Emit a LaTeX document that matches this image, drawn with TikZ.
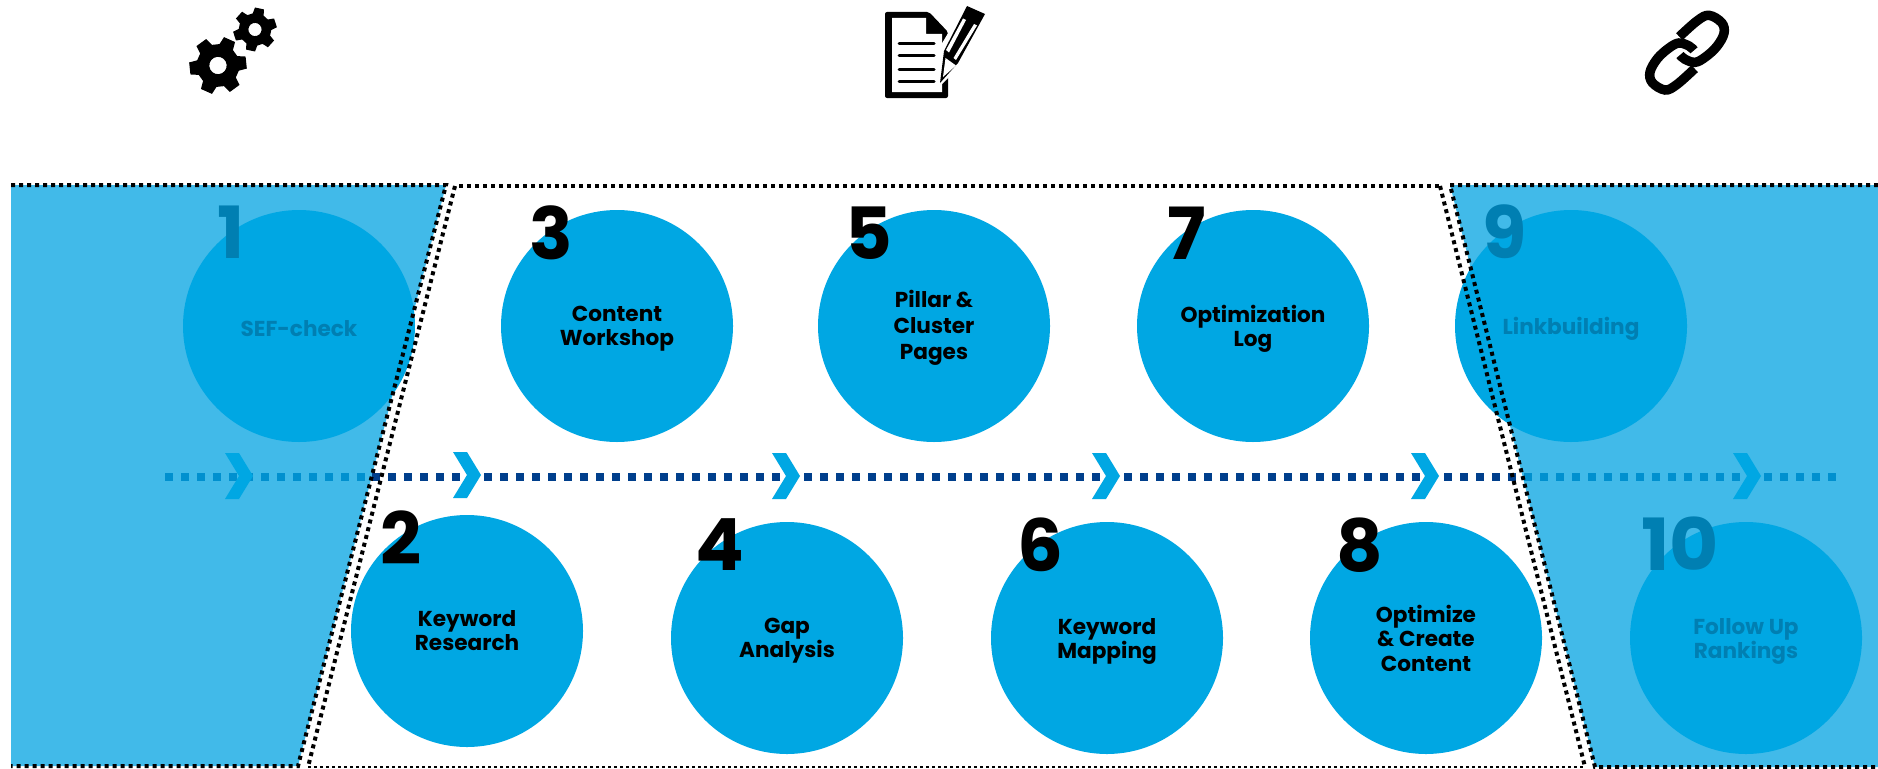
\documentclass[tikz,border=0pt]{standalone}
\usepackage{fontspec}
\setmainfont{Poppins}[BoldFont={Poppins Bold}]
\definecolor{circ}{HTML}{00A7E3}
\definecolor{band}{HTML}{41BAE9}
\definecolor{dim}{HTML}{007FB2}
\definecolor{navy}{HTML}{003F8C}
\definecolor{mid}{HTML}{0090CF}
\tikzset{
  disc/.style={circle,fill=circ,minimum size=232pt,inner sep=0pt},
  caption/.style={inner sep=0pt,align=center,font=\bfseries\fontsize{21.6}{24}\selectfont,text=black},
  dimcaption/.style={caption,text=dim},
  num/.style={inner sep=0pt,font=\bfseries\fontsize{72}{72}\selectfont,text=black},
  dimnum/.style={num,text=dim},
  dots/.style={line width=8pt,dash pattern=on 8pt off 8pt},
  bound/.style={line width=4pt,black,dash pattern=on 4pt off 4pt},
  thin bound/.style={line width=2pt,black,dash pattern=on 3pt off 3pt},
  chev/.style={fill=circ},
  chainlink/.style={line width=9.5pt,line cap=butt},
}
\newcommand{\chevronat}[2]{\fill[chev] (#1,#2-23) -- ++(14,0) -- ++(14,23) -- ++(-14,23) -- ++(-14,0) -- ++(14,-23) -- cycle;}
\newcommand{\gearicon}[4]{%
 \begin{scope}[shift={(#1,#2)},rotate=#4,scale=#3]
 \fill[even odd rule] (12:1) \foreach \a in {0,60,...,300}{
   -- ({\a+12}:1) -- ({\a+20}:.74) -- ({\a+40}:.74) -- ({\a+48}:1)
   } -- cycle (0,0) circle (.3);
 \end{scope}}
\begin{document}
\begin{tikzpicture}[x=1pt,y=-1pt]
\useasboundingbox (0,0) rectangle (1878,768);
\fill[white] (0,0) rectangle (1878,768);
% side bands
\fill[band] (11,185) -- (446,185) -- (298,766) -- (11,766) -- cycle;
\fill[band] (1450,185) -- (1878,185) -- (1878,767) -- (1595,767) -- cycle;
% discs
\node[disc] (d1) at (299,326) {};
\node[disc] (d3) at (617,326) {};
\node[disc] (d5) at (934,326) {};
\node[disc] (d7) at (1253,326) {};
\node[disc] (d9) at (1571,326) {};
\node[disc] (d2) at (467,631) {};
\node[disc] (d4) at (787,638) {};
\node[disc] (d6) at (1107,638) {};
\node[disc] (d8) at (1426,638) {};
\node[disc] (d10) at (1746,638) {};
% captions
\node[dimcaption] (t1) at (299,328.5) {SEF-check};
\node[caption] (t3) at (617,329) {Content\\Workshop};
\node[caption] (t5) at (934,328) {Pillar \&\\[1.5pt]Cluster\\[2pt]Pages};
\node[caption] (t7) at (1253,329) {Optimization\\Log};
\node[dimcaption] (t9) at (1571,328.5) {Linkbuilding};
\node[caption] (t2) at (467,631) {Keyword\\Research};
\node[caption] (t4) at (787,641) {Gap\\Analysis};
\node[caption] (t6) at (1107,641) {Keyword\\Mapping};
\node[caption] (t8) at (1426,638.5) {Optimize\\\& Create\\[1.5pt]Content};
\node[dimcaption] (t10) at (1746,641) {Follow Up\\Rankings};
% numbers
\node[dimnum] (n1) at (231,232) {1};
\node[num] (n3) at (551,233) {3};
\node[num] (n5) at (869,233) {5};
\node[num] (n7) at (1187,233) {7};
\node[dimnum] (n9) at (1505,232) {9};
\node[num] (n2) at (401,538) {2};
\node[num] (n4) at (720,545) {4};
\node[num] (n6) at (1040,545) {6};
\node[num] (n8) at (1360,545) {8};
\node[dimnum,xscale=1.05] (n10) at (1680,544) {10};
% progress line
\draw[dots,mid] (165,477) -- (372,477);
\draw[dots,navy] (372,477) -- (1516,477);
\draw[dots,mid] (1524,477) -- (1836,477);
\chevronat{225}{476}
\chevronat{453}{475}
\chevronat{772}{476}
\chevronat{1092}{476}
\chevronat{1411}{476}
\chevronat{1733}{476}
% boundaries
\draw[bound] (11,185) -- (446,185) -- (298,766) -- (11,766);
\draw[bound] (459,186) -- (1439,186);
\draw[bound] (455,186) -- (308,767);
\draw[bound] (1440,186) -- (1585,767);
\draw[thin bound] (308,767) -- (1585,767);
\draw[bound] (1878,185) -- (1450,185) -- (1595,767) -- (1878,767);
% gears
\gearicon{218}{65.5}{29}{6}
\gearicon{255}{29.5}{22}{18}
% document and pencil
\fill[rounded corners=2pt] (885,12) -- (929,12) -- (948,32) -- (948,98) -- (885,98) -- cycle;
\fill[white] (892,18) -- (926,18) -- (926,34) -- (942,34) -- (942,92) -- (892,92) -- cycle;
\foreach \yy in {44,56,69,81} \draw[line width=3pt,line cap=round] (899,\yy) -- (934,\yy);
\fill[white] (966,3) -- (989,13) -- (961,65) -- (937,89) -- (938,50) -- cycle;
\fill (967,6) -- (985,14) -- (958,63) -- (940,83) -- (944,51) -- cycle;
\fill[white] (963,18.5) -- (966,20) -- (949,52.5) -- (946,50) -- cycle;
\fill[white] (974,24) -- (977,25.5) -- (956,60) -- (953.5,58) -- cycle;
\fill[white] (945.5,58) -- (956,65.5) -- (943,77) -- cycle;
% chain
\begin{scope}[shift={(1600,0)},x=0.3333pt,y=-0.3333pt]
\draw[chainlink] plot[smooth,tension=.6] coordinates {(238,110) (292,62) (327,46) (365,68) (372,100) (350,140) (315,172) (285,187) (255,178) (240,165)};
\draw[chainlink] plot[smooth,tension=.6] coordinates {(284,206) (230,254) (195,270) (157,248) (150,216) (172,176) (207,144) (237,129) (267,138) (282,151)};
\end{scope}
\end{tikzpicture}
\end{document}
